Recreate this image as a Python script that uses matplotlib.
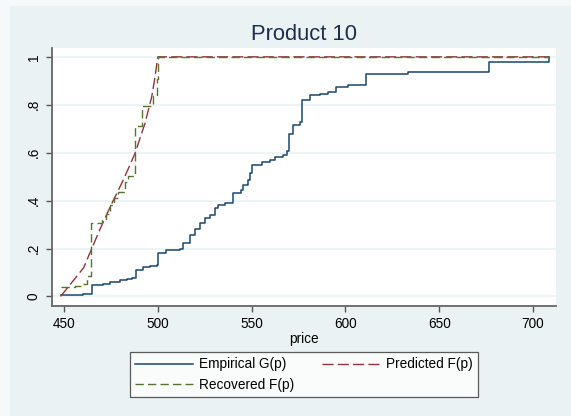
import matplotlib
matplotlib.use("Agg")
import matplotlib.pyplot as plt
from matplotlib.patches import Rectangle

# empirical G(p): step points (price, share after the jump)
emp_price = [448.2, 460, 464.8, 471, 474.5, 479.9, 483.4, 486, 488.4, 492.3, 495.8,
             499.4, 500.3, 504.4, 511.8, 513.6, 517.2, 519.8, 522.5, 525.2, 527.8,
             530.5, 532.3, 535.8, 539.9, 544.2, 545.6, 548.3, 549.2, 550.1, 555.4,
             559.8, 562.5, 566.9, 569.1, 570.1, 572, 575.8, 576.7, 581.2, 586.5,
             591, 594.9, 601.6, 610.8, 633.5, 676.5, 708.7]
emp_g = [0.004, 0.01, 0.046, 0.053, 0.06, 0.07, 0.074, 0.078, 0.109, 0.123, 0.125,
         0.13, 0.18, 0.193, 0.2, 0.223, 0.255, 0.28, 0.305, 0.326, 0.34,
         0.367, 0.381, 0.388, 0.43, 0.444, 0.465, 0.486, 0.514, 0.549, 0.563,
         0.57, 0.584, 0.59, 0.605, 0.68, 0.716, 0.726, 0.821, 0.842, 0.846,
         0.852, 0.874, 0.884, 0.93, 0.937, 0.979, 1.0]

# predicted F(p)
pred_price = [448.2, 460.5, 464.8, 470, 475, 480, 481.6, 485, 487.9, 490, 493.2,
              495, 496.8, 498.5, 500, 708.7]
pred_f = [0.0, 0.12, 0.2, 0.295, 0.38, 0.46, 0.486, 0.546, 0.598, 0.648, 0.723,
          0.779, 0.835, 0.915, 1.0, 1.0]

# recovered F(p): step points
rec_price = [448.2, 456, 460, 462.5, 464.6, 470, 472.5, 474.5, 476.5, 479, 482.5,
             484, 487.9, 491.8, 497.5, 499.4, 500.2, 708.7]
rec_f = [0.039, 0.044, 0.053, 0.085, 0.307, 0.32, 0.346, 0.38, 0.41, 0.437, 0.479,
         0.503, 0.712, 0.793, 0.835, 0.907, 1.0, 1.0]

x_ticks = [450, 500, 550, 600, 650, 700]
y_ticks = [0, 0.2, 0.4, 0.6, 0.8, 1.0]
y_tick_labels = ['0', '.2', '.4', '.6', '.8', '1']

plt.rcParams['font.family'] = ['Liberation Sans', 'DejaVu Sans']

W, H = 571, 416
fig = plt.figure(figsize=(W / 100, H / 100), dpi=100)
fig.patch.set_facecolor('#F6F9FA')
fig.patches.append(Rectangle((10 / W, 0), 1 - 10 / W, 1 - 6 / H,
                             transform=fig.transFigure, facecolor='#EAF2F3',
                             edgecolor='none', zorder=-10))

ax = fig.add_axes([52 / W, 1 - 306 / H, (556 - 52) / W, (306 - 47.5) / H])
ax.set_zorder(1)
ax.set_facecolor('white')

blue, = ax.plot(emp_price, emp_g, drawstyle='steps-post', color='#1A476F',
                lw=1.1, label='Empirical G(p)')
red, = ax.plot(pred_price, pred_f, color='#90353B', lw=1.0, dashes=(8, 3),
               label='Predicted F(p)')
green, = ax.plot(rec_price, rec_f, drawstyle='steps-post', color='#55752F',
                 lw=1.0, dashes=(6, 3), label='Recovered F(p)')

ax.set_xlim(443.6, 712.3)
ax.set_ylim(-0.04, 1.039)
ax.set_xticks(x_ticks)
ax.set_yticks(y_ticks)
ax.set_yticklabels(y_tick_labels, rotation=90, va='center')
ax.tick_params(axis='both', labelsize=9.8, length=4, width=1, color='#555555',
               direction='out')
ax.tick_params(axis='x', pad=4)
ax.tick_params(axis='y', pad=4)
ax.grid(axis='y', color='#EAF2F3', lw=1.2)
ax.set_axisbelow(True)
for side in ['top', 'right']:
    ax.spines[side].set_visible(False)
for side in ['left', 'bottom']:
    ax.spines[side].set_color('#666666')
    ax.spines[side].set_linewidth(1.3)

ax.set_xlabel('price', fontsize=9.8, labelpad=1)

fig.text(304 / W, 1 - 34 / H, 'Product 10', ha='center', va='center',
         fontsize=15.8, color='#1E2D50')

leg = fig.legend([blue, green, red],
                 ['Empirical G(p)', 'Recovered F(p)', 'Predicted F(p)'],
                 ncol=2, loc='center', bbox_to_anchor=(304 / W, 1 - 374.5 / H),
                 fontsize=9.8, frameon=True, fancybox=False, handlelength=4.2,
                 handletextpad=0.5, columnspacing=2.0, labelspacing=0.45,
                 borderpad=0.4)
leg.get_frame().set_edgecolor('#333333')
leg.get_frame().set_linewidth(0.9)

fig.savefig('out.png', dpi=100, facecolor=fig.get_facecolor())
